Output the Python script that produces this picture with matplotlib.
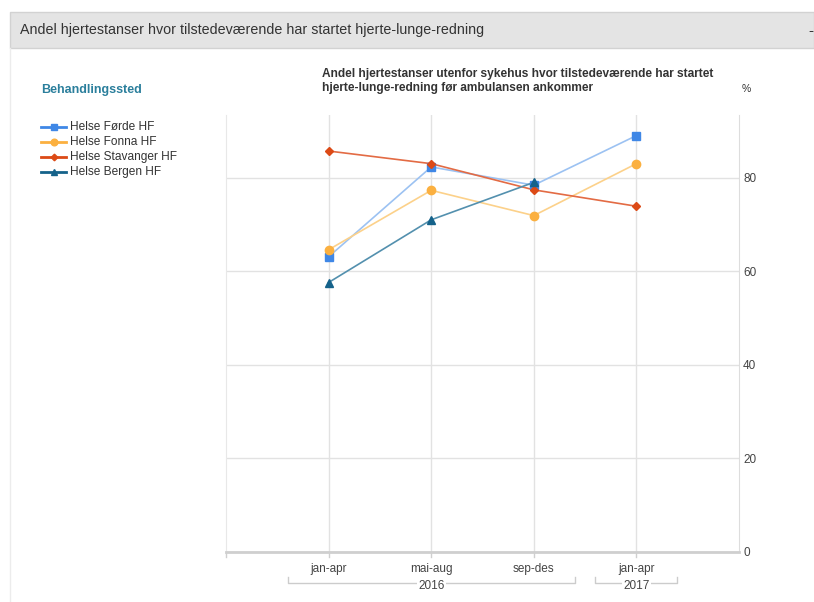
import matplotlib
matplotlib.use("Agg")
import matplotlib.pyplot as plt
from matplotlib.patches import Rectangle
from matplotlib.lines import Line2D
import matplotlib.transforms as mtransforms

plt.rcParams['font.family'] = ['Liberation Sans', 'DejaVu Sans']

categories = ["jan-apr", "mai-aug", "sep-des", "jan-apr"]
years = ["2016", "2016", "2016", "2017"]
forde = [63.1, 82.3, 78.4, 89.0]
fonna = [64.6, 77.3, 71.9, 83.0]
stavanger = [85.7, 83.0, 77.4, 73.9]
bergen = [57.6, 71.0, 79.0, None]
yticks = [0, 20, 40, 60, 80]

series = [
    ("Helse Førde HF", forde, "#3f87e6", "#9cc2f2", "s", 5.5),
    ("Helse Fonna HF", fonna, "#fbb040", "#fcd18a", "o", 6.0),
    ("Helse Stavanger HF", stavanger, "#dc4a16", "#e36b44", "D", 4.2),
    ("Helse Bergen HF", bergen, "#15628a", "#5390ae", "^", 5.5),
]

W, H = 814, 602
fig = plt.figure(figsize=(W / 100, H / 100), dpi=100)

def fx(px):
    return px / W

def fy(py):
    return 1 - py / H

# Header band
fig.patches.append(Rectangle((fx(10), fy(48)), fx(814 - 10), (48 - 12) / H,
                             transform=fig.transFigure, facecolor="#e4e4e4",
                             edgecolor="#d2d2d2", linewidth=1))
fig.add_artist(Line2D([fx(10), fx(10)], [fy(48), 0], transform=fig.transFigure,
                      color="#ececec", lw=1))
fig.text(fx(20), fy(30), "Andel hjertestanser hvor tilstedeværende har startet hjerte-lunge-redning",
         fontsize=10.25, color="#333333", va="center", ha="left")
fig.text(fx(808), fy(31), "-", fontsize=11, color="#333333", va="center", ha="left")

# Left panel
fig.text(fx(41), fy(90), "Behandlingssted", fontsize=9, fontweight="bold",
         color="#2b7f9c", va="center", ha="left")

ax = fig.add_axes([fx(226), fy(552), fx(739 - 226), (552 - 115) / H])
x = list(range(len(categories)))
for name, vals, mc, lc, mk, ms in series:
    xs = [xi for xi, v in zip(x, vals) if v is not None]
    vs = [v for v in vals if v is not None]
    ax.plot(xs, vs, color=lc, lw=1.2, zorder=3)
    ax.plot(xs, vs, linestyle="none", marker=mk, markersize=ms, color=mc,
            markeredgecolor=mc, zorder=4)

# Legend manually
for i, (name, vals, mc, lc, mk, ms) in enumerate(series):
    ypx = 127 + i * 15
    fig.add_artist(Line2D([fx(41), fx(66)], [fy(ypx), fy(ypx)], transform=fig.transFigure,
                          color=mc, lw=2))
    fig.add_artist(Line2D([fx(53.5)], [fy(ypx)], transform=fig.transFigure,
                          color=mc, marker=mk, markersize=ms * 0.8, markeredgecolor=mc))
    fig.text(fx(70), fy(ypx), name, fontsize=8.6, color="#333333", va="center", ha="left")

ax.set_xlim(-1, 4)
ax.set_ylim(0, 93.4)
ax.set_yticks(yticks)
ax.yaxis.tick_right()
ax.set_yticklabels([str(t) for t in yticks], fontsize=8.5, color="#444444")
ax.tick_params(axis="y", length=0, pad=3)
ax.set_xticks(x)
ax.set_xticklabels(categories, fontsize=8.5, color="#444444")
ax.tick_params(axis="x", length=0, pad=8)
ax.grid(True, color="#e2e2e2", lw=1)
ax.set_axisbelow(True)
ax.spines["top"].set_visible(False)
ax.spines["left"].set_color("#e8e8e8")
ax.spines["right"].set_color("#dddddd")
ax.spines["bottom"].set_color("#cfcfcf")
ax.spines["bottom"].set_linewidth(2)

# small ticks below axis
trans = mtransforms.blended_transform_factory(ax.transData, ax.transAxes)
for xt in [-1] + x:
    ax.add_line(Line2D([xt, xt], [0, -0.012], transform=trans, color="#cfcfcf",
                       lw=1, clip_on=False))

# Year brackets
ybr = -(583 - 552) / 437
ytop = -(577 - 552) / 437
ytxt = -(586 - 552) / 437
groups = {}
for i, yv in enumerate(years):
    groups.setdefault(yv, []).append(i)
for yv, idx in groups.items():
    x0, x1 = min(idx) - 0.4, max(idx) + 0.4
    ax.add_line(Line2D([x0, x0, x1, x1], [ytop, ybr, ybr, ytop], transform=trans,
                       color="#cccccc", lw=1, clip_on=False))
    ax.text((x0 + x1) / 2, ytxt, yv, transform=trans, ha="center", va="center",
            fontsize=8.5, color="#444444",
            bbox=dict(facecolor="white", edgecolor="none", pad=1.0), clip_on=False)

# Chart title
fig.text(fx(322), fy(81), "Andel hjertestanser utenfor sykehus hvor tilstedeværende har startet\nhjerte-lunge-redning før ambulansen ankommer",
         fontsize=8.6, fontweight="bold", color="#333333", va="center", ha="left",
         linespacing=1.25)
fig.text(fx(742), fy(89), "%", fontsize=7.5, color="#333333", va="center", ha="left")

fig.savefig("out.png", dpi=100)
